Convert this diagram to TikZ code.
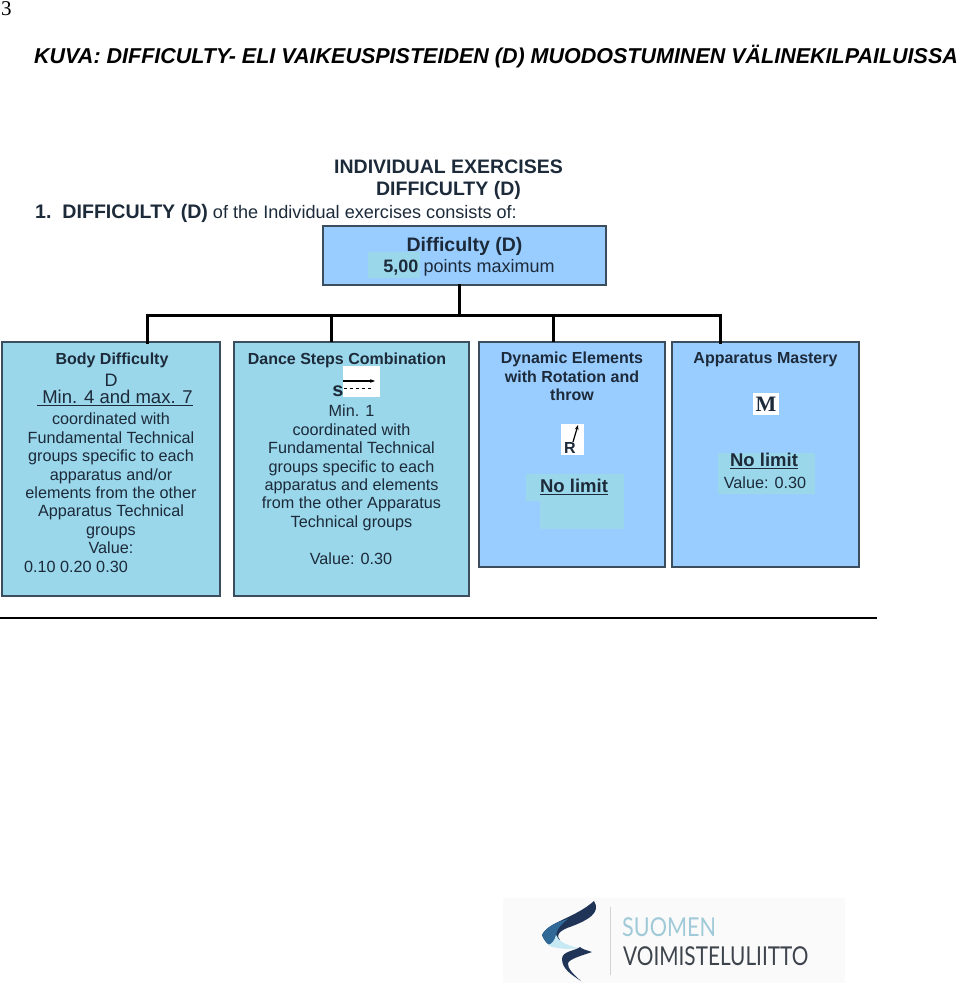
\documentclass[tikz,border=0pt]{standalone}
\usepackage{fontspec}
\setmainfont{Liberation Sans}
\newfontfamily\serifnum{Liberation Serif}
\newfontfamily\logofont{Lato}
\usepackage{xcolor}
\usetikzlibrary{arrows.meta,calc,positioning}
\definecolor{boxteal}{RGB}{154,215,234}
\definecolor{boxblue}{RGB}{153,204,255}
\definecolor{edgec}{RGB}{60,78,94}
\definecolor{inkc}{RGB}{28,42,58}
\definecolor{logoteal}{RGB}{160,202,216}
\definecolor{logodark}{RGB}{62,68,76}
\definecolor{swooshc}{RGB}{32,52,88}
\definecolor{swooshb}{RGB}{48,104,150}
\tikzset{
  blockb/.style={draw=edgec,line width=1.6pt,fill=boxblue,inner sep=0pt,outer sep=0pt},
  blockt/.style={blockb,fill=boxteal},
  patch/.style={fill=boxteal,draw=none,inner sep=0pt,outer sep=0pt},
  whitepatch/.style={patch,fill=white},
  headtxt/.style={font=\fontsize{16}{18.4}\selectfont\bfseries,align=center,text=inkc,inner sep=0pt},
  bodytxt/.style={font=\fontsize{16.2}{18.4}\selectfont,align=center,text=inkc,inner sep=0pt},
  bigtxt/.style={font=\fontsize{18.5}{20}\selectfont\bfseries,align=center,text=inkc,inner sep=0pt},
  bus/.style={line width=3pt,line cap=rect}
}
\begin{document}
\begin{tikzpicture}[x=1pt,y=-1pt,>={Stealth[length=5pt]}]
  \useasboundingbox (0,0) rectangle (960,987);
  \node[font=\serifnum\fontsize{21}{21}\selectfont,anchor=base west,inner sep=0pt] (pagenum) at (1,16) {3};
  \node[font=\fontsize{21.5}{24}\selectfont\bfseries\itshape,anchor=base west,inner sep=0pt] (maintitle) at (34,64) {KUVA: DIFFICULTY- ELI VAIKEUSPISTEIDEN (D) MUODOSTUMINEN VÄLINEKILPAILUISSA};
  \node[headtxt,font=\fontsize{19.5}{20}\selectfont\bfseries] (heada) at (448.5,167) {INDIVIDUAL EXERCISES};
  \node[headtxt,font=\fontsize{19.5}{20}\selectfont\bfseries] (headb) at (448.5,190) {DIFFICULTY (D)};
  \node[anchor=base west,inner sep=0pt,text=inkc,font=\fontsize{18.1}{18}\selectfont] (intro) at (35,218) {{\fontsize{19.6}{18}\selectfont\bfseries 1.\ \ DIFFICULTY (D)} of the Individual exercises consists of:};
  % boxes
  \node[blockb,minimum width=283pt,minimum height=59pt] (diff) at (464.5,255.5) {};
  \node[blockt,minimum width=218pt,minimum height=254pt] (body) at (111,469) {};
  \node[blockt,minimum width=235pt,minimum height=254pt] (dance) at (351.5,469) {};
  \node[blockb,minimum width=186pt,minimum height=225pt] (dyn) at (572,454.5) {};
  \node[blockb,minimum width=187pt,minimum height=225pt] (mast) at (765.5,454.5) {};
  % tree
  \coordinate (busl) at (147,315);
  \coordinate (busr) at (720,315);
  \coordinate (busm) at (459,315);
  \coordinate (tbody) at (147,342);
  \coordinate (tdance) at (331,342);
  \coordinate (tdyn) at (553,342);
  \coordinate (tmast) at (720,342);
  \coordinate (tdiff) at (459,285);
  \draw[bus] (tdiff) -- (busm);
  \draw[bus] (tbody) -- (busl) -- (busr) -- (tmast);
  \draw[line width=3pt] (tdance) -- (tdance |- busl);
  \draw[line width=3pt] (tdyn) -- (tdyn |- busl);
  % top box
  \node[patch,minimum width=52pt,minimum height=26pt] (p5) at (394,265) {};
  \node[headtxt,font=\fontsize{19.5}{20}\selectfont\bfseries] (difft) at (464.5,246) {Difficulty (D)};
  \node[inner sep=0pt,text=inkc,font=\fontsize{18}{20}\selectfont] (diffv) at (469,268) {\textbf{5,00} points maximum};
  % body difficulty
  \node[headtxt] (bodyh) at (112,360) {Body Difficulty};
  \node[inner sep=0pt,text=inkc,font=\fontsize{18}{20}\selectfont] (bodyd) at (111,380) {D};
  \node[bigtxt,font=\fontsize{18.5}{20}\selectfont] (bodym) at (115,398) {\underline{\ Min. 4 and max. 7}};
  \node[bodytxt,anchor=north] (bodyl) at (111,413) {coordinated with\\Fundamental Technical\\groups specific to each\\apparatus and/or\\elements from the other\\Apparatus Technical\\groups\\Value:};
  \node[bodytxt] (bodyv) at (76,567) {0.10 0.20 0.30};
  % dance steps
  \node[headtxt] (danceh) at (347,360) {Dance Steps Combination};
  \node[whitepatch,minimum width=37pt,minimum height=31pt] (dwhite) at (361.5,381.5) {};
  \node[headtxt,font=\fontsize{20}{20}\selectfont\bfseries] (dances) at (338,391) {s};
  \coordinate (dal) at (343,381);
  \coordinate (dar) at (375,381);
  \coordinate (ddl) at (344,388);
  \coordinate (ddr) at (374,388);
  \draw[->,line width=1.2pt] (dal) -- (dar);
  \draw[dashed,line width=1pt] (ddl) -- (ddr);
  \node[bodytxt,anchor=north] (dancel) at (351.5,405) {Min. 1\\coordinated with\\Fundamental Technical\\groups specific to each\\apparatus and elements\\from the other Apparatus\\Technical groups};
  \node[bodytxt] (dancev) at (351,559) {Value: 0.30};
  % dynamic elements
  \node[headtxt,anchor=north] (dynh) at (572,352) {Dynamic Elements\\with Rotation and\\throw};
  \node[whitepatch,minimum width=23pt,minimum height=31pt] (rwhite) at (572.5,439.5) {};
  \node[headtxt,font=\fontsize{16}{15}\selectfont\bfseries] (dynr) at (570,448) {R};
  \coordinate (ral) at (573,442);
  \coordinate (rar) at (578,425);
  \draw[->,line width=1.2pt] (ral) -- (rar);
  \node[patch,minimum width=98pt,minimum height=27pt] (pa) at (575,487.5) {};
  \node[patch,minimum width=84pt,minimum height=28pt] (pb) at (582,515) {};
  \node[bigtxt] (dynn) at (574,487) {\underline{No limit}};
  % apparatus mastery
  \node[headtxt] (masth) at (765.5,360) {Apparatus Mastery};
  \node[whitepatch,minimum width=26pt,minimum height=22pt] (mwhite) at (766,404) {};
  \node[font=\serifnum\bfseries\fontsize{22}{22}\selectfont,inner sep=0pt,text=inkc] (mastm) at (766,404) {M};
  \node[patch,minimum width=97pt,minimum height=41pt] (pc) at (766.5,473.5) {};
  \node[bigtxt] (mastn) at (764,461) {\underline{No limit}};
  \node[bodytxt] (mastv) at (765,483) {Value: 0.30};
  % rule
  \coordinate (rulel) at (0,618);
  \coordinate (ruler) at (877,618);
  \draw[line width=1.3pt] (rulel) -- (ruler);
  % logo
  \fill[gray!4] (503,898) rectangle (845,983);
  \fill[swooshc] (594,901) .. controls (601,912) and (590,920) .. (567,928) .. controls (558,932) and (556,936) .. (560,940) .. controls (556,948) and (547,948) .. (542,935) .. controls (548,922) and (575,918) .. (594,901);
  \fill[swooshb] (542,935) .. controls (546,927) and (556,922) .. (568,919) .. controls (556,928) and (553,936) .. (560,941) .. controls (556,948) and (547,948) .. (542,935);
  \fill[boxteal!55] (556,935) .. controls (558,941) and (566,945) .. (578,948) .. controls (566,950) and (552,948) .. (548,945) .. controls (552,944) and (555,940) .. (556,935);
  \fill[swooshc] (592,952) .. controls (586,950) and (582,949) .. (580,947) .. controls (575,951) and (562,951) .. (562,959) .. controls (562,969) and (572,975) .. (581,981) .. controls (574,975) and (567,968) .. (568,963) .. controls (570,959) and (580,956) .. (592,952);
  \draw[gray!35,line width=0.8pt] (610,907) -- (610,975);
  \node[anchor=base west,inner sep=0pt,xscale=.83,font=\logofont\fontsize{26}{26}\selectfont,text=logoteal] (logoa) at (622,936) {SUOMEN};
  \node[anchor=base west,inner sep=0pt,xscale=.8,font=\logofont\fontsize{26}{26}\selectfont,text=logodark] (logob) at (623,965) {VOIMISTELULIITTO};
\end{tikzpicture}
\end{document}
